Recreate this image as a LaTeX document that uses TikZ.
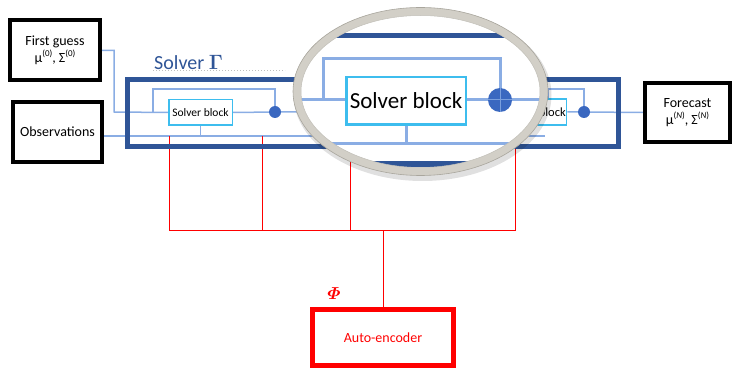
\documentclass[tikz,border=0pt]{standalone}
\usepackage{amsmath}
\usepackage{bm}
\usepackage{fontspec}
\setmainfont{Carlito}
\usetikzlibrary{calc}
\definecolor{frameblue}{HTML}{2F5597}
\definecolor{lineblue}{HTML}{8AADE4}
\definecolor{dotblue}{HTML}{3A68C0}
\definecolor{cyanb}{HTML}{3DBDEE}
\definecolor{ringgray}{HTML}{D2CFC7}
\definecolor{ringdark}{HTML}{A9A69D}
\pgfdeclarelayer{bg}
\pgfsetlayers{bg,main}
\newcommand{\supsc}[1]{\raisebox{0.45em}{\fontsize{9}{10}\selectfont #1}}
\begin{document}
\begin{tikzpicture}[x=1pt,y=-1pt,
  blackbox/.style={draw=black, line width=4pt, fill=white, align=center, inner sep=1pt, font=\fontsize{14}{17}\selectfont},
  sblock/.style={draw=cyanb, line width=1.5pt, fill=white, inner sep=0pt, font=\fontsize{11.5}{13}\selectfont},
  bigblock/.style={draw=cyanb, line width=2.5pt, fill=white, inner sep=0pt, font=\fontsize{23}{25}\selectfont},
  sumdot/.style={circle, fill=dotblue, minimum size=12pt, inner sep=0pt},
  conn/.style={draw=lineblue, line width=1.5pt},
  bigconn/.style={draw=lineblue, line width=3pt},
  redline/.style={draw=red, line width=1pt},
  aebox/.style={draw=red, line width=5pt, fill=white, text=red, font=\fontsize{14}{16}\selectfont}
]
\useasboundingbox (0,0) rectangle (733,371);

% ---- nodes ----
\node[blackbox, minimum width=90, minimum height=60] (fg) at (55,50.5) {First guess\\μ\supsc{(0)}, Σ\supsc{(0)}};
\node[blackbox, minimum width=89, minimum height=60] (obs) at (57.5,132) {Observations};
\node[blackbox, minimum width=85, minimum height=59] (fc) at (687.5,112.5) {Forecast\\μ\supsc{(\textit{N})}, Σ\supsc{(\textit{N})}};

\node[draw=frameblue, line width=5pt, minimum width=491, minimum height=67, inner sep=0pt] (solver) at (373,113) {};
\node[text=frameblue, anchor=base west, inner sep=0pt, font=\fontsize{20}{22}\selectfont] (slabel) at (154,70) {Solver $\bm{\Gamma}$};

\node[sblock, minimum width=63.5, minimum height=25.5] (sb1) at (200.5,112.5) {Solver block};
\node[sumdot] (c1) at (275,112) {};
\node[sblock, minimum width=61, minimum height=26] (sb3) at (536,112) {};
\node[anchor=east, inner sep=0pt, font=\fontsize{12.5}{13}\selectfont] (sb3t) at (566,112) {Solver block};
\node[sumdot] (c3) at (584,112) {};

\node[aebox, minimum width=141, minimum height=56] (ae) at (383,337.5) {Auto-encoder};
\node[text=red, font=\fontsize{19}{21}\selectfont, inner sep=0pt] (phi) at (334,294) {$\bm{\varPhi}$};

% ---- connectors (background) ----
\coordinate (j1) at (114,112);
\coordinate (k1) at (153,112);
\coordinate (k3) at (548,112);
\coordinate (bl) at (0,136);
\coordinate (blend) at (545,136);
\coordinate (bus) at (0,231);
\coordinate (r1) at (169,136);
\coordinate (r2) at (262,136);
\coordinate (r3) at (350,150);
\coordinate (r4) at (515,136);
\begin{pgfonlayer}{bg}
  \draw[dotted, line width=1pt, black!25] (153,71) -- (285,71);
  \draw[conn] (fg.east) -| (j1) -- (sb1.west);
  \draw[conn] (k1) -- ++(0,-23) -| (c1);
  \draw[conn] (sb1.east) -- (c1) -- (sb3.west);
  \draw[conn] (k3) -- ++(0,-23) -| (c3);
  \draw[conn] (sb3.east) -- (c3) -- (fc.west);
  \draw[conn] (obs.east |- bl) -- (blend);
  \draw[conn] (sb1.south) -- (sb1.south |- bl);
  \draw[redline] (r1) -- (r1 |- bus) -- (r4 |- bus) -- (r4);
  \draw[redline] (r2) -- (r2 |- bus);
  \draw[redline] (r3) -- (r3 |- bus);
  \draw[redline] (ae.north) -- (ae.north |- bus);
\end{pgfonlayer}

% ---- magnifier ----
\coordinate (mag) at (420.5,91.5);
\fill[black, opacity=0.12] ($(mag)+(2,3.5)$) ellipse [x radius=129, y radius=86];
\fill[white] (mag) ellipse [x radius=123.5, y radius=80];
\begin{scope}
  \clip (mag) ellipse [x radius=120, y radius=77];
  \fill[frameblue] (280,33) rectangle (560,38);
  \fill[frameblue] (280,161) rectangle (560,167);
  \coordinate (sbmc) at (406,101);
  \coordinate (cmc) at (500,100);
  \coordinate (km) at (323,100);
  \coordinate (mleft) at (280,100);
  \coordinate (mright) at (560,100);
  \coordinate (mbl) at (280,144);
  \coordinate (mbr) at (560,144);
  \draw[bigconn] (km) |- (500,59) -- (cmc);
  \draw[bigconn] (mleft) -- (mright);
  \draw[bigconn] (mbl) -- (mbr);
  \draw[bigconn] (sbmc) -- (sbmc |- mbl);
  \node[bigblock, minimum width=119.5, minimum height=47.5] (sbm) at (sbmc) {Solver block};
  \node[circle, fill=dotblue, minimum size=24pt, inner sep=0pt] (cm) at (cmc) {};
  \draw[lineblue!80!dotblue, line width=1pt] (cm.north) -- (cm.south) (cm.west) -- (cm.east);
\end{scope}
\draw[ringgray, line width=8pt] (mag) ellipse [x radius=123.5, y radius=80];
\draw[ringdark, line width=0.6pt] (mag) ellipse [x radius=127.5, y radius=84];
\draw[ringdark!70, line width=0.5pt] (mag) ellipse [x radius=119.5, y radius=76];
\end{tikzpicture}
\end{document}
